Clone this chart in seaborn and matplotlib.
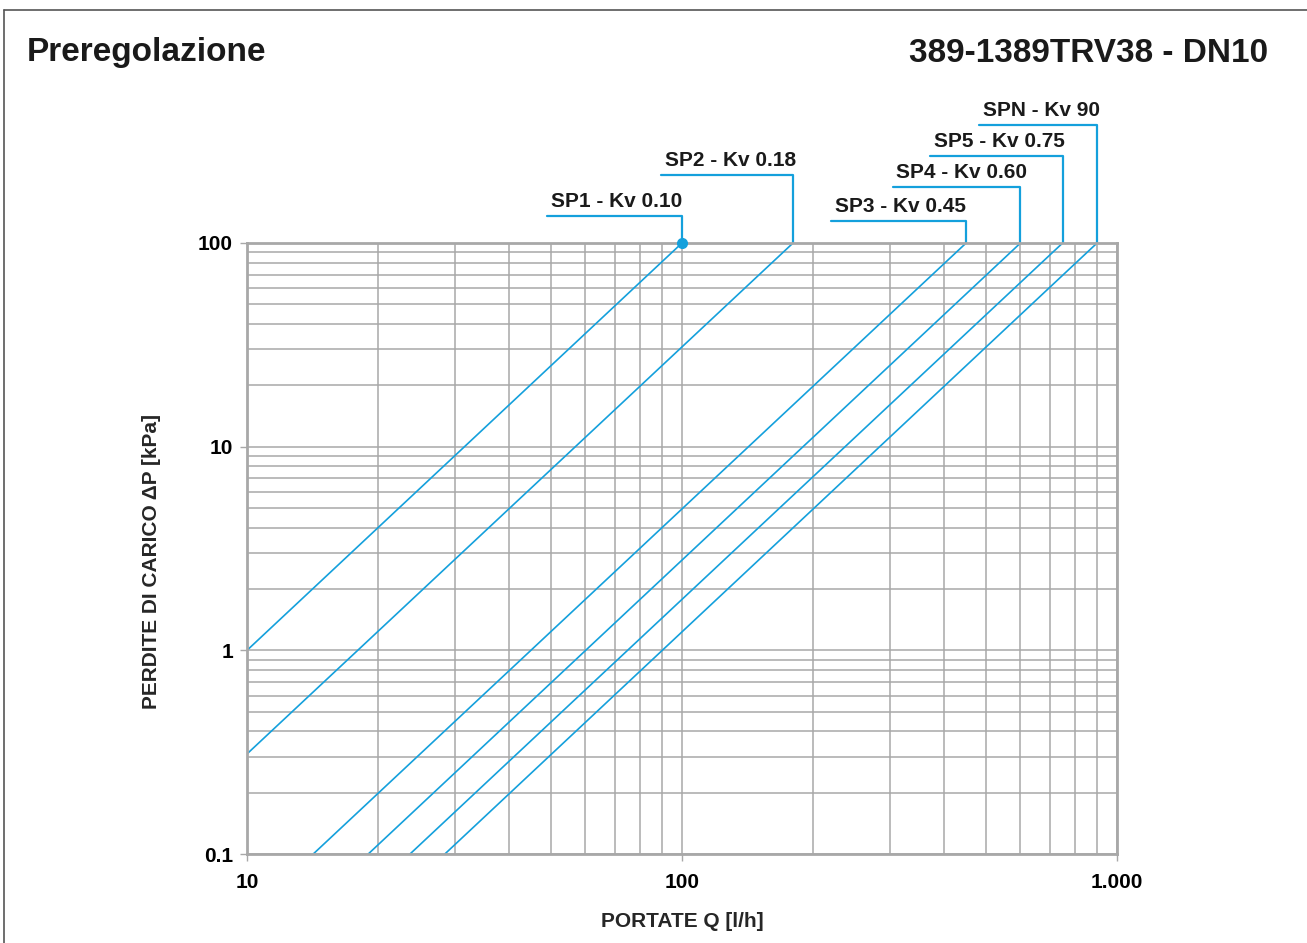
import numpy as np
import pandas as pd
import seaborn as sns
import matplotlib.pyplot as plt
from matplotlib.lines import Line2D

# curve end points (Q in l/h, dP in kPa)
series = ['SP1', 'SP2', 'SP3', 'SP4', 'SP5', 'SPN']
labels = ['SP1 - Kv 0.10', 'SP2 - Kv 0.18', 'SP3 - Kv 0.45',
          'SP4 - Kv 0.60', 'SP5 - Kv 0.75', 'SPN - Kv 90']
q_start = [10, 10, 14.2, 19.0, 23.7, 28.5]
dp_start = [1.0, 0.31, 0.1, 0.1, 0.1, 0.1]
q_end = [100, 180, 450, 600, 750, 900]
dp_end = [100, 100, 100, 100, 100, 100]

x_ticks = [10, 100, 1000]
x_ticklabels = ['10', '100', '1.000']
y_ticks = [0.1, 1, 10, 100]
y_ticklabels = ['0.1', '1', '10', '100']

# leader lines: left end (Q) and height (axes fraction)
leader_left = [49, 89.5, 220, 305, 372, 482]
leader_y = [1.044, 1.111, 1.036, 1.092, 1.142, 1.193]

rows = []
for s, qa, da, qb, db in zip(series, q_start, dp_start, q_end, dp_end):
    rows.append({'serie': s, 'Q': qa, 'dP': da})
    rows.append({'serie': s, 'Q': qb, 'dP': db})
df = pd.DataFrame(rows)

sns.set_style("white")
plt.rcParams['font.family'] = ['Liberation Sans', 'DejaVu Sans']
plt.rcParams['font.weight'] = 'bold'

blue = '#14a0dc'
grey = '#a8a8a8'
ink = '#1a1a1a'

fig = plt.figure(figsize=(13.07, 9.43), dpi=100)
ax = fig.add_axes([247 / 1307, 1 - 854 / 943, 870 / 1307, 611 / 943])

ax.set_xscale('log')
ax.set_yscale('log')
ax.set_xlim(10, 1000)
ax.set_ylim(0.1, 100)

ax.grid(True, which='both', color=grey, linewidth=1.1)
ax.set_axisbelow(True)

sns.lineplot(data=df, x='Q', y='dP', units='serie', estimator=None,
             color=blue, linewidth=1.2, ax=ax, legend=False)
ax.plot([100], [100], 'o', color=blue, markersize=7, clip_on=False, zorder=5)

for lab, ql, qe, ly in zip(labels, leader_left, q_end, leader_y):
    tr = ax.get_xaxis_transform()
    ax.add_line(Line2D([ql, qe, qe], [ly, ly, 1.0], transform=tr,
                       color=blue, linewidth=1.6, clip_on=False))
    ax.text(ql * 1.02, ly + 0.008, lab, transform=tr, fontsize=15,
            fontweight='bold', color=ink, va='bottom', ha='left')

for sp in ax.spines.values():
    sp.set_color(grey)
    sp.set_linewidth(2)

ax.set_xticks(x_ticks)
ax.set_xticklabels(x_ticklabels)
ax.set_yticks(y_ticks)
ax.set_yticklabels(y_ticklabels)
ax.xaxis.set_minor_formatter(plt.NullFormatter())
ax.yaxis.set_minor_formatter(plt.NullFormatter())
ax.tick_params(which='major', length=5, width=1, color=grey, labelsize=15,
               labelcolor='black', bottom=True, left=True)
ax.tick_params(axis='x', pad=9)
ax.tick_params(axis='y', pad=5)
ax.tick_params(which='minor', length=0)
for t in ax.get_xticklabels() + ax.get_yticklabels():
    t.set_fontweight('bold')

ax.set_xlabel('PORTATE Q [l/h]', fontsize=15, fontweight='bold', labelpad=14)
ax.set_ylabel('PERDITE DI CARICO ΔP [kPa]', fontsize=15, fontweight='bold')
ax.yaxis.set_label_coords(-0.099, 0.478)

fig.text(27 / 1307, 1 - 53 / 943, 'Preregolazione', fontsize=24,
         fontweight='bold', color=ink, va='center', ha='left')
fig.text(1268 / 1307, 1 - 53 / 943, '389-1389TRV38 - DN10', fontsize=24,
         fontweight='bold', color=ink, va='center', ha='right')

# frame around the sheet
fig.add_artist(Line2D([4 / 1307, 4 / 1307], [0, 1 - 10 / 943],
                      color='#555555', linewidth=1.2))
fig.add_artist(Line2D([4 / 1307, 1], [1 - 10 / 943, 1 - 10 / 943],
                      color='#555555', linewidth=1.2))

fig.savefig('out.png', dpi=100)
